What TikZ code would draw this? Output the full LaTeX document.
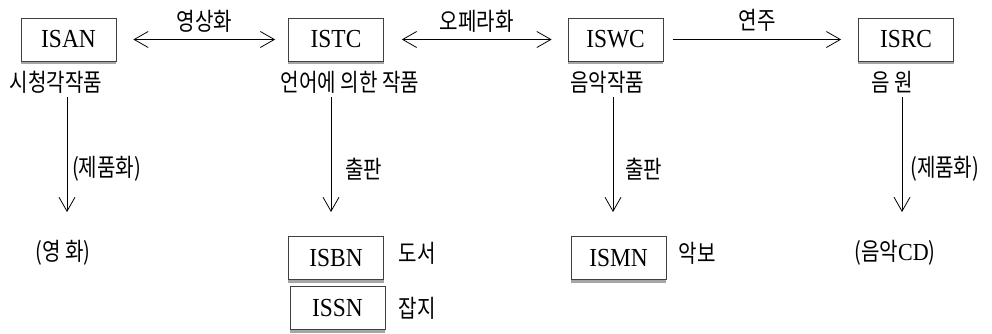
\documentclass[tikz,border=0pt]{standalone}
\usepackage{fontspec}
\setmainfont{Liberation Serif}
\newfontfamily\kr[FakeStretch=0.82]{Noto Sans CJK KR}
\newfontfamily\lat[FakeStretch=0.9]{Liberation Serif}
\usetikzlibrary{arrows.meta}
\begin{document}
\begin{tikzpicture}[x=1pt,y=-1pt,
  idbox/.style={draw=black!75, line width=0.7pt, minimum width=95pt, minimum height=43pt, inner sep=0pt, font=\lat\fontsize{26}{26}\selectfont},
  krtext/.style={font=\kr\fontsize{24.5}{24.5}\selectfont, inner sep=0pt},
  conn/.style={line width=0.8pt, draw=black},
  barb/.tip={Straight Barb[length=14pt,width=16pt,line width=0.8pt]},
  shadowline/.style={draw=black!35, line width=2.5pt},
]
\useasboundingbox (0,0) rectangle (992,333);

% top row boxes
\node[idbox] (isan) at (68.5,39.5) {ISAN};
\node[idbox] (istc) at (336,39.5) {ISTC};
\node[idbox] (iswc) at (615.5,39.5) {ISWC};
\node[idbox] (isrc) at (906,39.5) {ISRC};
% bottom boxes
\node[idbox] (isbn) at (336,258) {ISBN};
\node[idbox] (issn) at (337.5,308) {ISSN};
\node[idbox] (ismn) at (618.5,258) {ISMN};

\foreach \n in {isan,istc,iswc,isrc,isbn,issn,ismn}
  \draw[shadowline] ([yshift=-1.6pt]\n.south west) -- ([yshift=-1.6pt]\n.south east);

% horizontal connectors
\draw[conn, barb-barb] ([xshift=17pt]isan.east) -- ([xshift=-13pt]istc.west)
  node[krtext, midway, above=7pt] (l1) {영상화};
\draw[conn, barb-barb] ([xshift=18pt]istc.east) -- ([xshift=-16pt]iswc.west)
  node[krtext, midway, above=7pt] (l2) {오페라화};
\draw[conn, -barb] ([xshift=10pt]iswc.east) -- ([xshift=-17pt]isrc.west)
  node[krtext, midway, above=8pt] (l3) {연주};

% sub labels
\node[krtext] (s1) at (56,82) {시청각작품};
\node[krtext] (s2) at (350,82) {언어에 의한 작품};
\node[krtext] (s3) at (607,82) {음악작품};
\node[krtext] (s4) at (892,82) {음 원};

% vertical connectors
\coordinate (v1a) at (67,97);  \coordinate (v1b) at (67,212);
\coordinate (v2a) at (331,97); \coordinate (v2b) at (331,212);
\coordinate (v3a) at (613,97); \coordinate (v3b) at (613,212);
\coordinate (v4a) at (902,97); \coordinate (v4b) at (902,212);
\draw[conn, -barb] (v1a) -- (v1b);
\draw[conn, -barb] (v2a) -- (v2b);
\draw[conn, -barb] (v3a) -- (v3b);
\draw[conn, -barb] (v4a) -- (v4b);

\node[krtext, anchor=west] (p1) at (72,169) {(제품화)};
\node[krtext, anchor=west] (p2) at (345,169) {출판};
\node[krtext, anchor=west] (p3) at (625,169) {출판};
\node[krtext, anchor=west] (p4) at (910,169) {(제품화)};

% bottom labels
\node[krtext] (b1) at (63,253) {(영 화)};
\node[krtext] (b2) at (417,253) {도서};
\node[krtext] (b3) at (417,308) {잡지};
\node[krtext] (b4) at (697,253) {악보};
\node[krtext] (b5) at (895,253) {(음악{\lat CD})};
\end{tikzpicture}
\end{document}
